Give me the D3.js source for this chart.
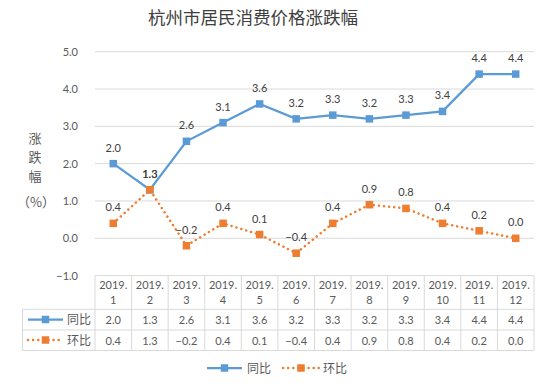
<!DOCTYPE html>
<html><head><meta charset="utf-8">
<script src="https://cdn.jsdelivr.net/npm/d3@7"></script>
<style>
body{margin:0;background:#fff;}
text{font-family:"Lato","Noto Sans CJK SC",sans-serif;fill:#595959;}
.cjk{font-family:"Noto Sans CJK SC",sans-serif;}
</style></head><body>
<svg id="c" width="550" height="390"></svg>
<script>
const title = "杭州市居民消费价格涨跌幅";
const months = ["2019.1","2019.2","2019.3","2019.4","2019.5","2019.6","2019.7","2019.8","2019.9","2019.10","2019.11","2019.12"];
const yoy = [2.0,1.3,2.6,3.1,3.6,3.2,3.3,3.2,3.3,3.4,4.4,4.4];
const mom = [0.4,1.3,-0.2,0.4,0.1,-0.4,0.4,0.9,0.8,0.4,0.2,0.0];
const seriesNames = ["同比","环比"];
const yTicks = [-1,0,1,2,3,4,5];
const yLabel = ["涨","跌","幅","（%）"];

const blue = "#5B9BD5", orange = "#ED7D31", grid = "#D9D9D9";
const svg = d3.select("#c");
const L = 95, R = 534, T = 51.7, B = 275.6;
const x = d3.scaleBand().domain(months).range([L,R]);
const y = d3.scaleLinear().domain([-1,5]).range([B,T]);

svg.append("text").attr("class","cjk").attr("x",253).attr("y",24).attr("text-anchor","middle")
  .attr("font-size",17.5).style("fill","#404040").text(title);

svg.append("g").selectAll("line").data(yTicks.filter(d=>d>-1)).join("line")
  .attr("x1",L).attr("x2",R).attr("y1",d=>y(d)).attr("y2",d=>y(d))
  .attr("stroke",grid).attr("stroke-width",1);
const ya = svg.append("g").attr("transform",`translate(${L},0)`)
  .call(d3.axisLeft(y).tickValues(yTicks).tickFormat(d3.format(".1f")).tickSize(0).tickPadding(17));
ya.select(".domain").remove();
ya.selectAll("text").attr("font-size",11).style("font-family","Lato,sans-serif").style("fill","#595959");

const yl = svg.append("g");
yl.selectAll("text").data(yLabel).join("text").attr("class","cjk")
  .attr("x",(d,i)=>i<3?35:36).attr("y",(d,i)=>[143,162,181,207][i])
  .attr("text-anchor","middle").attr("font-size",13).text(d=>d);

const cx = d=>x(d)+x.bandwidth()/2;
const lineGen = vals => d3.line().x((d,i)=>cx(months[i])).y(d=>y(d))(vals);

function markers(vals,col){
  svg.append("g").selectAll("rect").data(vals).join("rect")
    .attr("x",(d,i)=>cx(months[i])-3.75).attr("y",d=>y(d)-3.75)
    .attr("width",7.5).attr("height",7.5).attr("fill",col);
  svg.append("g").selectAll("text").data(vals).join("text")
    .attr("x",(d,i)=>cx(months[i])).attr("y",d=>y(d)-12)
    .attr("text-anchor","middle").attr("font-size",11).style("fill","#404040")
    .text(d=>d3.format(".1f")(d));
}
svg.append("path").attr("d",lineGen(yoy)).attr("fill","none").attr("stroke",blue)
  .attr("stroke-width",2.25);
markers(yoy,blue);
svg.append("path").attr("d",lineGen(mom)).attr("fill","none").attr("stroke",orange)
  .attr("stroke-width",2.5).attr("stroke-dasharray","0.1 5").attr("stroke-linecap","round");
markers(mom,orange);

const tb = svg.append("g");
const rowY = [275.6,309.3,330,350.5];
const tl = 22.5;
const bc = "#D9D9D9";
tb.append("line").attr("x1",L).attr("x2",R).attr("y1",rowY[0]).attr("y2",rowY[0]).attr("stroke",bc);
for(let k=1;k<4;k++) tb.append("line").attr("x1",tl).attr("x2",R).attr("y1",rowY[k]).attr("y2",rowY[k]).attr("stroke",bc);
tb.append("line").attr("x1",tl).attr("x2",tl).attr("y1",rowY[1]).attr("y2",rowY[3]).attr("stroke",bc);
const bounds = months.map(m=>x(m)).concat([R]);
tb.selectAll("line.v").data(bounds).join("line").attr("class","v")
  .attr("x1",d=>d).attr("x2",d=>d).attr("y1",rowY[0]).attr("y2",rowY[3]).attr("stroke",bc);
months.forEach(m=>{
  const [a,b] = m.split(".");
  tb.append("text").attr("x",cx(m)).attr("y",289).attr("text-anchor","middle").attr("font-size",11).text(a+".");
  tb.append("text").attr("x",cx(m)).attr("y",304).attr("text-anchor","middle").attr("font-size",11).text(b);
});
tb.selectAll("text.r1").data(yoy).join("text").attr("class","r1")
  .attr("x",(d,i)=>cx(months[i])).attr("y",324).attr("text-anchor","middle").attr("font-size",11).text(d=>d3.format(".1f")(d));
tb.selectAll("text.r2").data(mom).join("text").attr("class","r2")
  .attr("x",(d,i)=>cx(months[i])).attr("y",344.5).attr("text-anchor","middle").attr("font-size",11).text(d=>d3.format(".1f")(d));

function legendIcon(g,x0,x1,yy,col,dotted){
  g.append("line").attr("x1",x0).attr("x2",x1).attr("y1",yy).attr("y2",yy).attr("stroke",col)
    .attr("stroke-width",dotted?2.5:2.25).attr("stroke-linecap",dotted?"round":"butt")
    .attr("stroke-dasharray",dotted?"0.1 5":null);
  g.append("rect").attr("x",(x0+x1)/2-3.75).attr("y",yy-3.75).attr("width",7.5).attr("height",7.5).attr("fill",col);
}
legendIcon(tb,28,63,319.5,blue,false);
legendIcon(tb,28,63,340,orange,true);
tb.append("text").attr("class","cjk").attr("x",67).attr("y",324).attr("font-size",12).text(seriesNames[0]);
tb.append("text").attr("class","cjk").attr("x",67).attr("y",344.5).attr("font-size",12).text(seriesNames[1]);

const lg = svg.append("g");
legendIcon(lg,207,242,368,blue,false);
lg.append("text").attr("class","cjk").attr("x",247).attr("y",372.5).attr("font-size",12).text(seriesNames[0]);
legendIcon(lg,283,319,368,orange,true);
lg.append("text").attr("class","cjk").attr("x",323).attr("y",372.5).attr("font-size",12).text(seriesNames[1]);
</script></body></html>
